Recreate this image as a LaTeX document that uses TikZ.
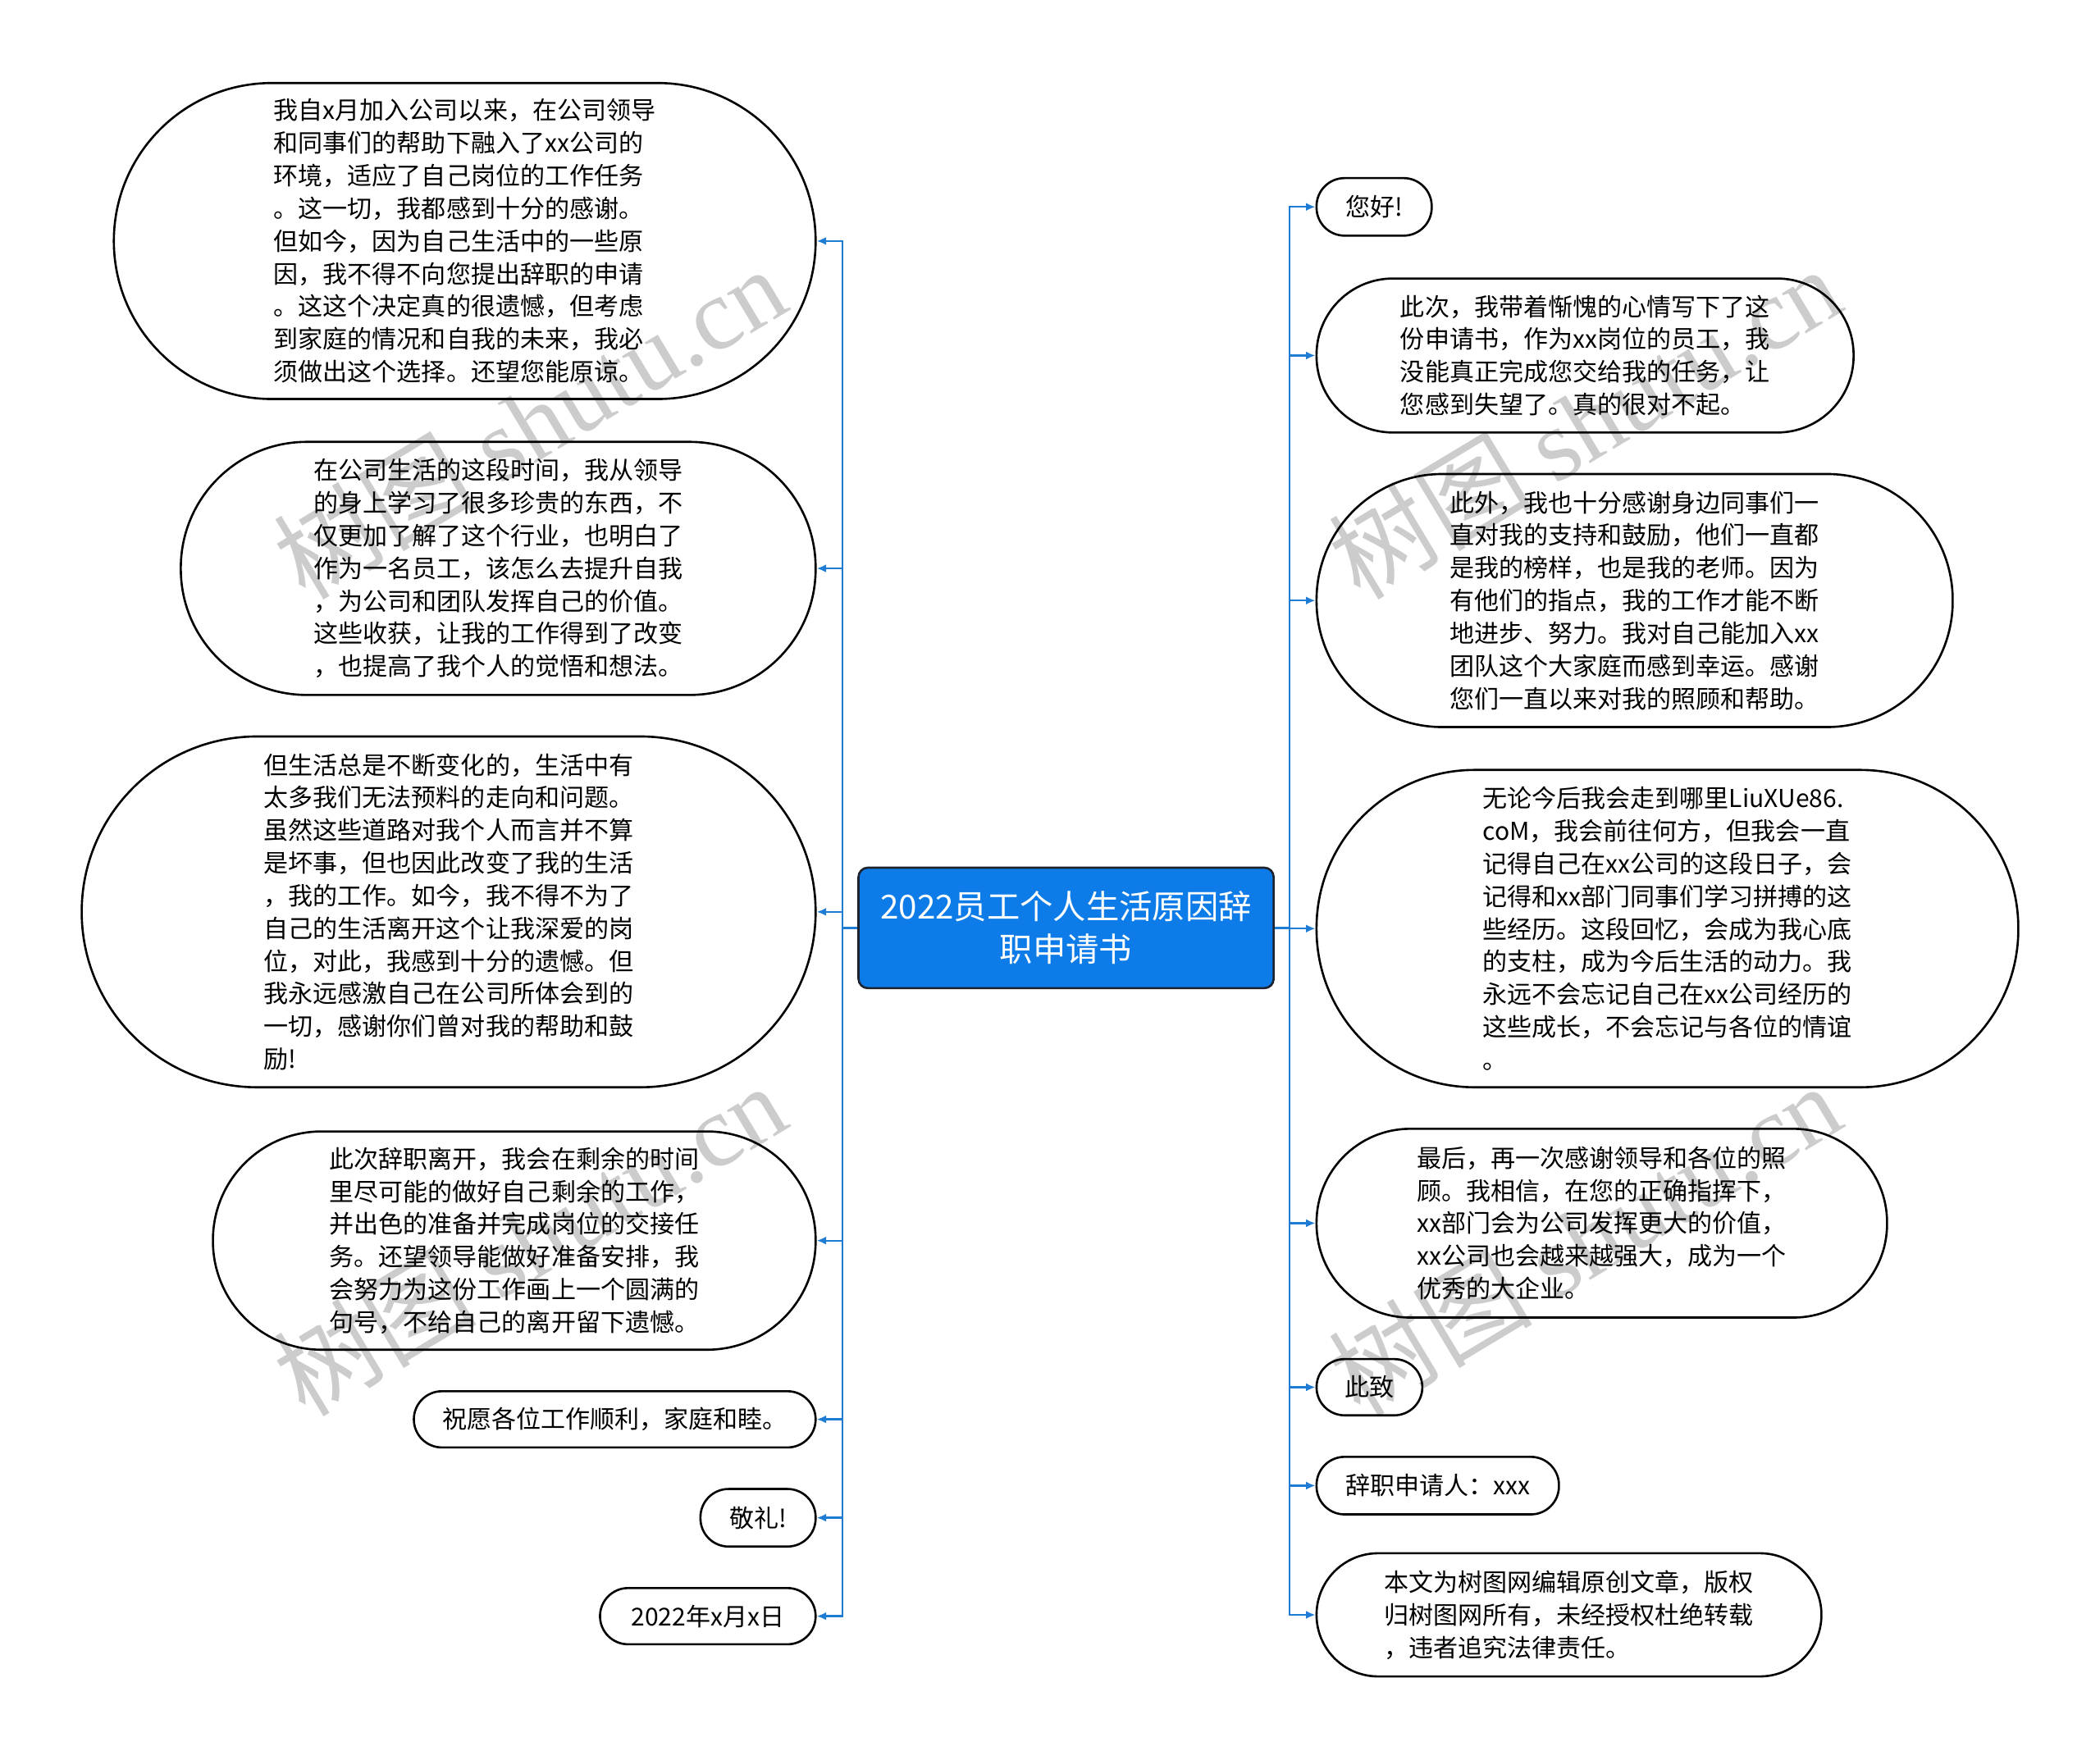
\documentclass[tikz,border=0pt]{standalone}
\usepackage{fontspec}
\setmainfont{Noto Sans CJK SC}
\newfontfamily\wmserif{Liberation Serif}
\usepackage{xcolor}
\usepackage{tikz}
\usetikzlibrary{arrows.meta}
\definecolor{rootblue}{RGB}{14,124,232}
\definecolor{linkblue}{RGB}{30,124,212}
\definecolor{rootborder}{RGB}{28,34,46}

\begin{document}
\begin{tikzpicture}[x=1pt,y=-1pt,
    leaf/.style={rectangle,draw=black,line width=1.6pt,fill=white,align=left,inner sep=2pt,font=\fontsize{18.4}{24.4}\selectfont},
    rootbox/.style={rectangle,draw=rootborder,fill=rootblue,line width=1.6pt,rounded corners=7,text=white,align=center,minimum width=310,minimum height=90,font=\fontsize{24.7}{32}\selectfont},
    conn/.style={draw=linkblue,line width=1.4pt},
    tip/.style={-{Latex[length=7pt,width=6pt]}},
    wmtext/.style={text=black,text opacity=0.2,rotate=31,font=\fontsize{76}{76}\selectfont}]
    \useasboundingbox (0,0) rectangle (1568,1314);

    % Nodo centrale
    \node[rootbox] (root) at (796,693) {2022员工个人生活原因辞\\职申请书};
    \coordinate (lefttrunk) at (629,693);
    \coordinate (righttrunk) at (963,693);

    % Rami a sinistra
    \node[leaf,minimum width=524,minimum height=236,rounded corners=118] (left1) at (347,180) {我自x月加入公司以来，在公司领导\\和同事们的帮助下融入了xx公司的\\环境，适应了自己岗位的工作任务\\。这一切，我都感到十分的感谢。\\但如今，因为自己生活中的一些原\\因，我不得不向您提出辞职的申请\\。这这个决定真的很遗憾，但考虑\\到家庭的情况和自我的未来，我必\\须做出这个选择。还望您能原谅。};
    \node[leaf,minimum width=474,minimum height=189,rounded corners=94] (left2) at (372,424.5) {在公司生活的这段时间，我从领导\\的身上学习了很多珍贵的东西，不\\仅更加了解了这个行业，也明白了\\作为一名员工，该怎么去提升自我\\，为公司和团队发挥自己的价值。\\这些收获，让我的工作得到了改变\\，也提高了我个人的觉悟和想法。};
    \node[leaf,minimum width=548,minimum height=262,rounded corners=131] (left3) at (335,681) {但生活总是不断变化的，生活中有\\太多我们无法预料的走向和问题。\\虽然这些道路对我个人而言并不算\\是坏事，但也因此改变了我的生活\\，我的工作。如今，我不得不为了\\自己的生活离开这个让我深爱的岗\\位，对此，我感到十分的遗憾。但\\我永远感激自己在公司所体会到的\\一切，感谢你们曾对我的帮助和鼓\\励!};
    \node[leaf,minimum width=450,minimum height=163,rounded corners=81] (left4) at (384,926.5) {此次辞职离开，我会在剩余的时间\\里尽可能的做好自己剩余的工作，\\并出色的准备并完成岗位的交接任\\务。还望领导能做好准备安排，我\\会努力为这份工作画上一个圆满的\\句号，不给自己的离开留下遗憾。};
    \node[leaf,minimum width=300,minimum height=42,rounded corners=21] (left5) at (459,1060) {祝愿各位工作顺利，家庭和睦。};
    \node[leaf,minimum width=86,minimum height=43,rounded corners=21] (left6) at (566,1133.5) {敬礼!};
    \node[leaf,minimum width=161,minimum height=42,rounded corners=21] (left7) at (528.5,1207) {2022年x月x日};

    % Rami a destra
    \node[leaf,minimum width=86,minimum height=43,rounded corners=21] (right1) at (1026,154.5) {您好!};
    \node[leaf,minimum width=401,minimum height=115,rounded corners=57] (right2) at (1183.5,265.5) {此次，我带着惭愧的心情写下了这\\份申请书，作为xx岗位的员工，我\\没能真正完成您交给我的任务，让\\您感到失望了。真的很对不起。};
    \node[leaf,minimum width=475,minimum height=189,rounded corners=94] (right3) at (1220.5,448.5) {此外，我也十分感谢身边同事们一\\直对我的支持和鼓励，他们一直都\\是我的榜样，也是我的老师。因为\\有他们的指点，我的工作才能不断\\地进步、努力。我对自己能加入xx\\团队这个大家庭而感到幸运。感谢\\您们一直以来对我的照顾和帮助。};
    \node[leaf,minimum width=524,minimum height=237,rounded corners=118] (right4) at (1245,693.5) {无论今后我会走到哪里LiuXUe86.\\coM，我会前往何方，但我会一直\\记得自己在xx公司的这段日子，会\\记得和xx部门同事们学习拼搏的这\\些经历。这段回忆，会成为我心底\\的支柱，成为今后生活的动力。我\\永远不会忘记自己在xx公司经历的\\这些成长，不会忘记与各位的情谊\\。};
    \node[leaf,minimum width=426,minimum height=141,rounded corners=70] (right5) at (1196,913.5) {最后，再一次感谢领导和各位的照\\顾。我相信，在您的正确指挥下，\\xx部门会为公司发挥更大的价值，\\xx公司也会越来越强大，成为一个\\优秀的大企业。};
    \node[leaf,minimum width=79,minimum height=42,rounded corners=21] (right6) at (1022.5,1036) {此致};
    \node[leaf,minimum width=181,minimum height=43,rounded corners=21] (right7) at (1073.5,1109.5) {辞职申请人：xxx};
    \node[leaf,minimum width=377,minimum height=92,rounded corners=46] (right8) at (1171.5,1206) {本文为树图网编辑原创文章，版权\\归树图网所有，未经授权杜绝转载\\，违者追究法律责任。};

    % Collegamenti
    \draw[conn] (root.west) -- (lefttrunk);
    \draw[conn] (root.east) -- (righttrunk);
    \foreach \n in {left1,left2,left3,left4,left5,left6,left7}
        \draw[conn,tip] (lefttrunk) |- (\n.east);
    \foreach \n in {right1,right2,right3,right4,right5,right6,right7,right8}
        \draw[conn,tip] (righttrunk) |- (\n.west);

    % Filigrana
    \node[wmtext] (wm1) at (395,315) {树图 {\wmserif shutu.cn}};
    \node[wmtext] (wm2) at (1183,315) {树图 {\wmserif shutu.cn}};
    \node[wmtext] (wm3) at (395,925) {树图 {\wmserif shutu.cn}};
    \node[wmtext] (wm4) at (1183,925) {树图 {\wmserif shutu.cn}};
\end{tikzpicture}
\end{document}
